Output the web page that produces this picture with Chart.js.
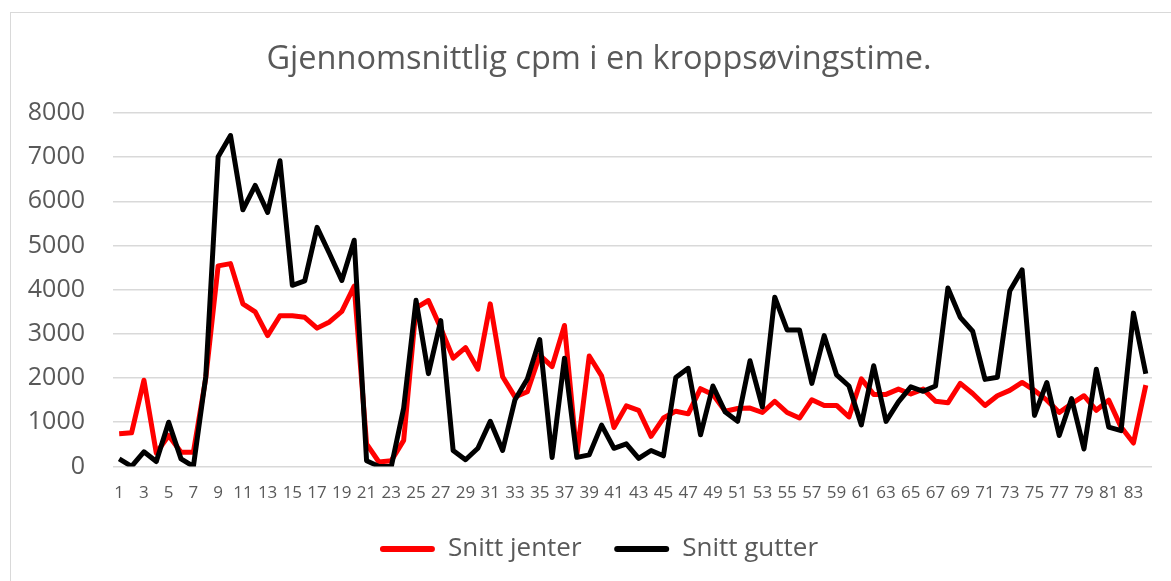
<!DOCTYPE html>
<html>
<head>
<meta charset="utf-8">
<title>Gjennomsnittlig cpm</title>
<script src="https://cdn.jsdelivr.net/npm/chart.js@4.4.0/dist/chart.umd.min.js"></script>
<style>
    body { margin: 0; background: #ffffff; overflow: hidden; }
    #ramme {
        position: absolute; left: 10px; top: 12px;
        width: 1200px; height: 600px;
        border: 1px solid #d9d9d9;
    }
    /* bredere enn vinduet, slik at tittel og forklaring sentreres i Excel-rammen */
    #wrap { position: absolute; left: 0; top: 0; width: 1198px; height: 581px; }
</style>
</head>
<body>
<div id="ramme"></div>
<div id="wrap"><canvas id="grafCpm"></canvas></div>
<script>
// minutter (kategorier)
var minutter = ['1','2','3','4','5','6','7','8','9','10','11','12','13','14','15','16','17','18','19','20',
    '21','22','23','24','25','26','27','28','29','30','31','32','33','34','35','36','37','38','39','40',
    '41','42','43','44','45','46','47','48','49','50','51','52','53','54','55','56','57','58','59','60',
    '61','62','63','64','65','66','67','68','69','70','71','72','73','74','75','76','77','78','79','80',
    '81','82','83','84'];

var snittJenter = [740, 760, 1950, 300, 700, 320, 320, 2000, 4540, 4590,
    3680, 3500, 2960, 3410, 3410, 3375, 3130, 3270, 3510, 4080,
    510, 100, 130, 590, 3590, 3755, 3130, 2450, 2690, 2200,
    3680, 2030, 1575, 1690, 2520, 2260, 3190, 250, 2500, 2050,
    880, 1370, 1270, 680, 1095, 1250, 1190, 1760, 1630, 1250,
    1310, 1320, 1220, 1475, 1220, 1095, 1510, 1380, 1380, 1120,
    1980, 1630, 1630, 1750, 1640, 1750, 1475, 1440, 1880, 1650,
    1380, 1600, 1720, 1900, 1720, 1500, 1220, 1420, 1600, 1270,
    1500, 890, 530, 1840];

var snittGutter = [170, 0, 330, 110, 1000, 170, 0, 2030, 7010, 7490,
    5810, 6360, 5750, 6920, 4100, 4200, 5410, 4820, 4210, 5120,
    130, 0, 0, 1320, 3760, 2100, 3300, 360, 150, 410,
    1020, 360, 1510, 1980, 2870, 200, 2450, 205, 260, 935,
    410, 510, 180, 360, 240, 2010, 2220, 715, 1820, 1230,
    1020, 2390, 1345, 3830, 3090, 3090, 1880, 2960, 2070, 1820,
    940, 2280, 1020, 1460, 1800, 1700, 1820, 4040, 3375, 3060,
    1970, 2020, 3970, 4450, 1155, 1900, 700, 1535, 395, 2200,
    890, 810, 3470, 2100];

var yMin = 0;
var yMax = 8000;
var yStep = 1000;

var tekstFarge = '#595959';
var gridFarge = '#d9d9d9';

var ctx = document.getElementById('grafCpm');
var chart = new Chart(ctx, {
    type: 'line',
    data: {
        labels: minutter,
        datasets: [{
            label: 'Snitt jenter',
            data: snittJenter,
            borderColor: '#ff0000',
            backgroundColor: '#ff0000',
            borderWidth: 5,
            borderJoinStyle: 'round',
            pointRadius: 0,
            tension: 0,
            order: 1
        }, {
            label: 'Snitt gutter',
            data: snittGutter,
            borderColor: '#000000',
            backgroundColor: '#000000',
            borderWidth: 5,
            borderJoinStyle: 'round',
            pointRadius: 0,
            tension: 0,
            order: 0
        }]
    },
    options: {
        responsive: true,
        maintainAspectRatio: false,
        animation: false,
        layout: {
            padding: { left: 0, right: 0, top: 0, bottom: 9 }
        },
        plugins: {
            tooltip: { enabled: false },
            title: {
                display: true,
                text: 'Gjennomsnittlig cpm i en kroppsøvingstime.',
                color: tekstFarge,
                font: { family: 'Open Sans', size: 32.5, weight: 'normal' },
                padding: { top: 40, bottom: 34 }
            },
            legend: {
                position: 'bottom',
                labels: {
                    color: tekstFarge,
                    font: { family: 'Open Sans', size: 26 },
                    boxWidth: 55,
                    boxHeight: 6,
                    padding: 32.6,
                    useBorderRadius: true,
                    borderRadius: 3,
                    generateLabels: function(c) {
                        var items = Chart.defaults.plugins.legend.labels.generateLabels(c);
                        items.forEach(function(it) { it.lineWidth = 0; });
                        return items.sort(function(a, b) { return a.datasetIndex - b.datasetIndex; });
                    }
                }
            }
        },
        scales: {
            x: {
                offset: true,
                grid: { display: false, drawTicks: false },
                border: { display: false },
                ticks: {
                    color: tekstFarge,
                    font: { family: 'Open Sans', size: 17 },
                    autoSkip: false,
                    maxRotation: 0,
                    minRotation: 0,
                    padding: 17,
                    callback: function(value, index) {
                        return index % 2 === 0 ? minutter[index] : '';
                    }
                },
                afterFit: function(scale) {
                    scale.height = 37;
                }
            },
            y: {
                min: yMin,
                max: yMax,
                grid: { color: gridFarge, lineWidth: 1.5, drawTicks: false },
                border: { display: false },
                ticks: {
                    stepSize: yStep,
                    color: tekstFarge,
                    font: { family: 'Open Sans', size: 25 },
                    padding: 28,
                    callback: function(value) {
                        return String(value);
                    }
                },
                afterFit: function(scale) {
                    scale.width = 113;
                }
            },
            // tom akse til hoyre, bare for a gi plass
            yTom: {
                position: 'right',
                min: yMin,
                max: yMax,
                grid: { display: false, drawTicks: false },
                border: { display: false },
                ticks: { display: false },
                afterFit: function(scale) {
                    scale.width = 46;
                }
            }
        }
    }
});
</script>
</body>
</html>
